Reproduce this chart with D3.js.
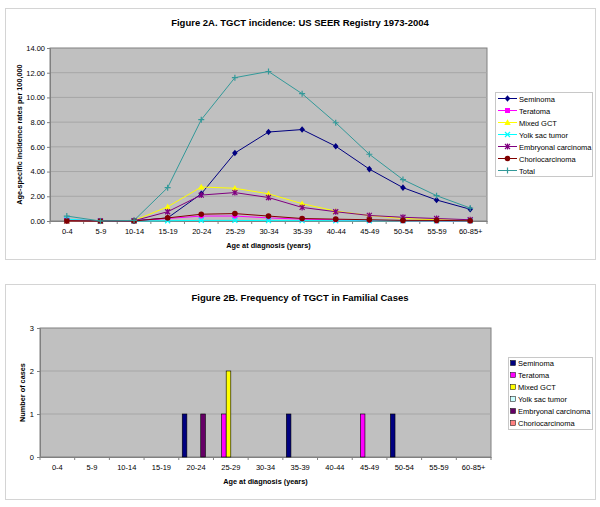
<!DOCTYPE html>
<html lang="en">
<head>
<meta charset="utf-8">
<title>TGCT incidence</title>
<style>
  body { margin: 0; background: #fff; font-family: "Liberation Sans", Arial, sans-serif; }
  .grid line { stroke: #a6a6a6; stroke-width: 1; }
  .axis text { font-size: 7.5px; fill: #000; font-family: "Liberation Sans", Arial, sans-serif; }
  .title { font-size: 9.5px; font-weight: bold; }
  .axtitle { font-size: 7.3px; font-weight: bold; }
  .leg { font-size: 7.5px; }
</style>
</head>
<body>
<svg width="600" height="507"></svg>
<script src="https://d3js.org/d3.v7.min.js"></script>
<script>
var ages = ["0-4","5-9","10-14","15-19","20-24","25-29","30-34","35-39","40-44","45-49","50-54","55-59","60-85+"];
var seriesNames = ["Seminoma","Teratoma","Mixed GCT","Yolk sac tumor","Embryonal carcinoma","Choriocarcinoma","Total"];

// Figure 2A rates per 100,000
var seminoma   = [0.05,0,0.02,0.25,2.2,5.5,7.2,7.4,6.05,4.2,2.7,1.7,0.95];
var teratoma   = [0.1,0.01,0.01,0.2,0.4,0.4,0.25,0.15,0.1,0.05,0.03,0.02,0.02];
var mixedGct   = [0,0,0.03,1.15,2.75,2.65,2.2,1.4,0.8,0.45,0.2,0.1,0.05];
var yolkSac    = [0.15,0,0,0.02,0.05,0.05,0.03,0.03,0.02,0.02,0.02,0.01,0.01];
var embryonal  = [0,0,0.02,0.75,2.1,2.3,1.9,1.1,0.75,0.45,0.3,0.2,0.1];
var chorio     = [0.02,0,0,0.25,0.55,0.6,0.4,0.2,0.15,0.1,0.05,0.05,0.02];
var total      = [0.4,0,0.05,2.7,8.2,11.6,12.1,10.3,7.95,5.4,3.35,2.05,1.05];

// Figure 2B number of familial cases
var famSeminoma  = [0,0,0,0,1,0,0,1,0,0,1,0,0];
var famTeratoma  = [0,0,0,0,0,1,0,0,0,1,0,0,0];
var famMixed     = [0,0,0,0,0,2,0,0,0,0,0,0,0];
var famYolk      = [0,0,0,0,0,0,0,0,0,0,0,0,0];
var famEmbryonal = [0,0,0,0,1,0,0,0,0,0,0,0,0];
var famChorio    = [0,0,0,0,0,0,0,0,0,0,0,0,0];

var lineColors = ["#000080","#ff00ff","#ffff00","#00ffff","#800080","#800000","#339999"];
var barColors  = ["#000080","#ff00ff","#ffff00","#ccffff","#660066","#ff8080"];
var markers    = ["diamond","square","triangle","x","star","circle","plus"];

var svg = d3.select("svg");

function frame(y, h) {
  svg.append("rect").attr("x", 5.5).attr("y", y + 0.5).attr("width", 590).attr("height", h)
    .attr("fill", "#fff").attr("stroke", "#d4d4d4");
}

/* ---------------- Figure 2A ---------------- */
frame(8, 251);
var lines = [seminoma, teratoma, mixedGct, yolkSac, embryonal, chorio, total];
var m1 = {l: 50, t: 48, r: 487, b: 221};
var x1 = d3.scalePoint().domain(ages).range([m1.l, m1.r]).padding(0.5);
var y1 = d3.scaleLinear().domain([0, 14]).range([m1.b, m1.t]);

svg.append("text").attr("class", "title").attr("x", 300).attr("y", 26).attr("text-anchor", "middle")
  .text("Figure 2A. TGCT incidence: US SEER Registry 1973-2004");

svg.append("rect").attr("x", m1.l).attr("y", m1.t).attr("width", m1.r - m1.l).attr("height", m1.b - m1.t)
  .attr("fill", "#c0c0c0").attr("stroke", "#808080");

svg.append("g").attr("class", "grid").selectAll("line").data(d3.range(2, 14, 2)).enter().append("line")
  .attr("x1", m1.l).attr("x2", m1.r).attr("y1", function(d) { return y1(d); }).attr("y2", function(d) { return y1(d); });

var ax1 = svg.append("g").attr("class", "axis").attr("transform", "translate(" + m1.l + ",0)")
  .call(d3.axisLeft(y1).tickValues(d3.range(0, 15, 2)).tickFormat(d3.format(".2f")).tickSize(3).tickPadding(2));
ax1.select(".domain").attr("stroke", "#808080");
ax1.selectAll(".tick line").attr("stroke", "#808080");

var bx1 = svg.append("g").attr("class", "axis").attr("transform", "translate(0," + m1.b + ")")
  .call(d3.axisBottom(x1).tickSize(0).tickPadding(8));
bx1.select(".domain").attr("stroke", "#808080");
// category separator ticks
var step1 = x1.step();
bx1.selectAll(".sep").data(d3.range(ages.length + 1)).enter().append("line")
  .attr("x1", function(i) { return m1.l + i * step1; }).attr("x2", function(i) { return m1.l + i * step1; })
  .attr("y1", 0).attr("y2", 3).attr("stroke", "#808080");

svg.append("text").attr("class", "axtitle").attr("x", (m1.l + m1.r) / 2).attr("y", 248).attr("text-anchor", "middle")
  .text("Age at diagnosis (years)");
svg.append("text").attr("class", "axtitle").attr("transform", "translate(22," + ((m1.t + m1.b) / 2) + ") rotate(-90)")
  .attr("text-anchor", "middle").text("Age-specific incidence rates per 100,000");

function marker(g, type, color, x, y) {
  var s = 2.8;
  if (type === "diamond") {
    g.append("path").attr("d", "M" + x + "," + (y - s - 0.5) + "L" + (x + s) + "," + y + "L" + x + "," + (y + s + 0.5) + "L" + (x - s) + "," + y + "Z").attr("fill", color);
  } else if (type === "square") {
    g.append("rect").attr("x", x - 2.5).attr("y", y - 2.5).attr("width", 5).attr("height", 5).attr("fill", color);
  } else if (type === "triangle") {
    g.append("path").attr("d", "M" + x + "," + (y - 3.2) + "L" + (x + 3.2) + "," + (y + 2.6) + "L" + (x - 3.2) + "," + (y + 2.6) + "Z").attr("fill", color);
  } else if (type === "x") {
    g.append("path").attr("d", "M" + (x - 2.5) + "," + (y - 2.5) + "L" + (x + 2.5) + "," + (y + 2.5) + "M" + (x + 2.5) + "," + (y - 2.5) + "L" + (x - 2.5) + "," + (y + 2.5))
      .attr("stroke", color).attr("stroke-width", 1.2);
  } else if (type === "star") {
    g.append("path").attr("d", "M" + (x - 2.5) + "," + (y - 2.5) + "L" + (x + 2.5) + "," + (y + 2.5) + "M" + (x + 2.5) + "," + (y - 2.5) + "L" + (x - 2.5) + "," + (y + 2.5) + "M" + x + "," + (y - 3) + "L" + x + "," + (y + 3))
      .attr("stroke", color).attr("stroke-width", 1.2);
  } else if (type === "circle") {
    g.append("circle").attr("cx", x).attr("cy", y).attr("r", 2.8).attr("fill", color);
  } else if (type === "plus") {
    g.append("path").attr("d", "M" + (x - 3) + "," + y + "L" + (x + 3) + "," + y + "M" + x + "," + (y - 3) + "L" + x + "," + (y + 3))
      .attr("stroke", color).attr("stroke-width", 1.2);
  }
}

var line1 = d3.line().x(function(d, i) { return x1(ages[i]); }).y(function(d) { return y1(d); });
var gl = svg.append("g");
lines.forEach(function(vals, k) {
  var g = gl.append("g");
  g.append("path").attr("d", line1(vals)).attr("fill", "none").attr("stroke", lineColors[k]).attr("stroke-width", 1);
  vals.forEach(function(v, i) { marker(g, markers[k], lineColors[k], x1(ages[i]), y1(v)); });
});

// legend A
var leg1 = svg.append("g");
leg1.append("rect").attr("x", 495.5).attr("y", 92.5).attr("width", 97).attr("height", 84)
  .attr("fill", "#fff").attr("stroke", "#c8c8c8");
seriesNames.forEach(function(n, k) {
  var yy = 98.5 + k * 12;
  leg1.append("line").attr("x1", 498).attr("x2", 517).attr("y1", yy).attr("y2", yy).attr("stroke", lineColors[k]);
  marker(leg1, markers[k], lineColors[k], 507.5, yy);
  leg1.append("text").attr("class", "leg").attr("x", 519).attr("y", yy + 3).text(n);
});

/* ---------------- Figure 2B ---------------- */
frame(284, 215);
var bars = [famSeminoma, famTeratoma, famMixed, famYolk, famEmbryonal, famChorio];
var m2 = {l: 40, t: 328, r: 491, b: 457};
var x2 = d3.scaleBand().domain(ages).range([m2.l, m2.r]);
var xs = d3.scaleBand().domain(d3.range(6)).range([0, x2.bandwidth()]).paddingOuter(0.75).paddingInner(0);
var y2 = d3.scaleLinear().domain([0, 3]).range([m2.b, m2.t]);

svg.append("text").attr("class", "title").attr("x", 300).attr("y", 301).attr("text-anchor", "middle")
  .text("Figure 2B. Frequency of TGCT in Familial Cases");

svg.append("rect").attr("x", m2.l).attr("y", m2.t).attr("width", m2.r - m2.l).attr("height", m2.b - m2.t)
  .attr("fill", "#c0c0c0").attr("stroke", "#808080");

svg.append("g").attr("class", "grid").selectAll("line").data([1, 2]).enter().append("line")
  .attr("x1", m2.l).attr("x2", m2.r).attr("y1", function(d) { return y2(d); }).attr("y2", function(d) { return y2(d); });

var ax2 = svg.append("g").attr("class", "axis").attr("transform", "translate(" + m2.l + ",0)")
  .call(d3.axisLeft(y2).ticks(3).tickFormat(d3.format("d")).tickSize(3).tickPadding(3));
ax2.select(".domain").attr("stroke", "#808080");
ax2.selectAll(".tick line").attr("stroke", "#808080");

var bx2 = svg.append("g").attr("class", "axis").attr("transform", "translate(0," + m2.b + ")")
  .call(d3.axisBottom(x2).tickSize(0).tickPadding(8));
bx2.select(".domain").attr("stroke", "#808080");
bx2.selectAll(".sep").data(d3.range(ages.length + 1)).enter().append("line")
  .attr("x1", function(i) { return m2.l + i * x2.step(); }).attr("x2", function(i) { return m2.l + i * x2.step(); })
  .attr("y1", 0).attr("y2", 3).attr("stroke", "#808080");

svg.append("text").attr("class", "axtitle").attr("x", (m2.l + m2.r) / 2).attr("y", 484).attr("text-anchor", "middle")
  .text("Age at diagnosis (years)");
svg.append("text").attr("class", "axtitle").attr("transform", "translate(25," + ((m2.t + m2.b) / 2) + ") rotate(-90)")
  .attr("text-anchor", "middle").text("Number of cases");

var gb = svg.append("g");
bars.forEach(function(vals, k) {
  gb.selectAll(".b" + k).data(vals.map(function(v, i) { return {v: v, a: ages[i]}; }).filter(function(d) { return d.v > 0; }))
    .enter().append("rect")
    .attr("x", function(d) { return x2(d.a) + xs(k); })
    .attr("y", function(d) { return y2(d.v); })
    .attr("width", xs.bandwidth())
    .attr("height", function(d) { return y2(0) - y2(d.v); })
    .attr("fill", barColors[k]).attr("stroke", "#000").attr("stroke-width", 0.6);
});

// legend B
var leg2 = svg.append("g");
leg2.append("rect").attr("x", 508.5).attr("y", 357.5).attr("width", 84).attr("height", 72)
  .attr("fill", "#fff").attr("stroke", "#c8c8c8");
seriesNames.slice(0, 6).forEach(function(n, k) {
  var yy = 363 + k * 12;
  leg2.append("rect").attr("x", 510.5).attr("y", yy - 2.5).attr("width", 5).attr("height", 5)
    .attr("fill", barColors[k]).attr("stroke", "#000").attr("stroke-width", 0.5);
  leg2.append("text").attr("class", "leg").attr("x", 518).attr("y", yy + 3).text(n);
});
</script>
</body>
</html>
